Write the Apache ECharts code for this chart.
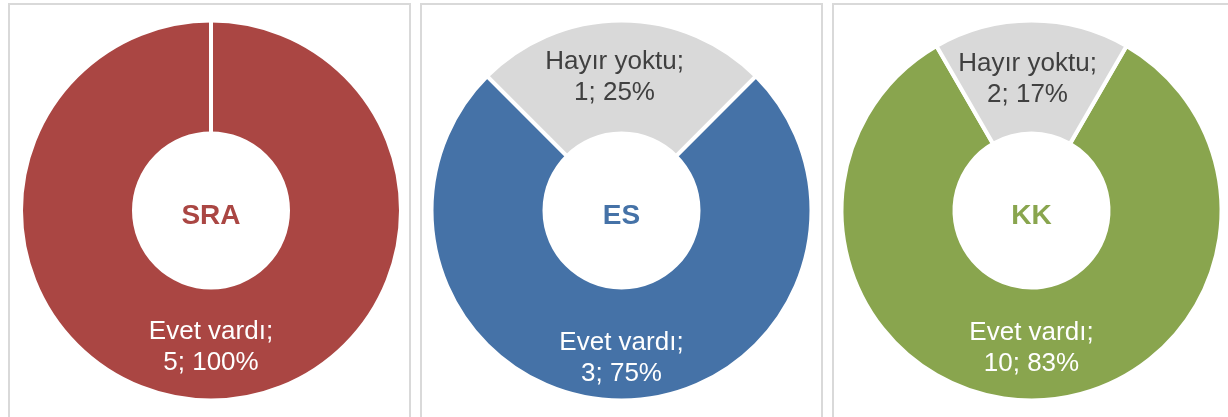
<!DOCTYPE html>
<html>
<head>
<meta charset="utf-8">
<script src="https://cdn.jsdelivr.net/npm/echarts@6/dist/echarts.min.js"></script>
<style>
  html, body { margin: 0; padding: 0; background: #fff; }
  #chart { width: 1228px; height: 417px; }
</style>
</head>
<body>
<div id="chart"></div>
<script>
// Three donuts side by side, one per group; the "Hayır" slice is centred at the top.

const groups = ["SRA", "ES", "KK"];
const categories = ["Evet vardı", "Hayır yoktu"];
const sraValues = [5];
const esValues = [3, 1];
const kkValues = [10, 2];

const groupColors = ["#AA4643", "#4572A7", "#89A54E"];
const noColor = "#D9D9D9";
const FONT = "'Liberation Sans', Arial, sans-serif";

const centersX = [211, 621.5, 1031.5];
const centerY = 210.5;
const R_IN = 77, R_OUT = 190;
// small nudges so labels sit where Excel put them
const evetDy = [0, 11, 1];
const hayirDy = [5, 3, 5];
const hayirDx = [0, -7, -4];

const allValues = [sraValues, esValues, kkValues];

const chart = echarts.init(document.getElementById("chart"), null, { renderer: "canvas" });

const series = allValues.map((vals, gi) => {
  const total = vals.reduce((a, b) => a + b, 0);
  const hayirAngle = ((vals[1] || 0) / total) * 360;
  return {
    type: "pie",
    center: [centersX[gi], centerY],
    radius: [R_IN, R_OUT],
    startAngle: 90 - hayirAngle / 2,
    clockwise: true,
    silent: true,
    percentPrecision: 0,
    avoidLabelOverlap: false,
    itemStyle: { borderColor: "#fff", borderWidth: 4 },
    label: {
      show: true,
      position: "inside",
      formatter: "{b};\n{c}; {d}%",
      align: "center",
      fontFamily: FONT,
      fontSize: 26,
      lineHeight: 31,
    },
    labelLine: { show: false },
    labelLayout: p => p.dataIndex === 0
      ? { dy: evetDy[gi] }
      : { dx: hayirDx[gi], dy: hayirDy[gi] },
    data: vals.map((v, i) => ({
      name: categories[i],
      value: v,
      itemStyle: { color: i === 0 ? groupColors[gi] : noColor },
      label: { color: i === 0 ? "#fff" : "#404040" },
    })),
  };
});

const graphic = [];
// panel frames
[[9, 401], [421, 401], [833, 401]].forEach(([x, w]) => {
  graphic.push({
    type: "rect", silent: true, z: 0,
    shape: { x, y: 4, width: w, height: 440 },
    style: { fill: "none", stroke: "#D9D9D9", lineWidth: 2 },
  });
});
// centre captions
groups.forEach((g, gi) => {
  graphic.push({
    type: "text", silent: true, z: 10,
    style: {
      text: g, x: centersX[gi], y: centerY + 6,
      align: "center", verticalAlign: "middle",
      font: `bold 28px ${FONT}`, fill: groupColors[gi],
    },
  });
});
// white separator where the full SRA ring starts and ends
graphic.push({
  type: "line", silent: true, z: 10,
  shape: { x1: centersX[0], y1: centerY - R_IN + 2, x2: centersX[0], y2: centerY - R_OUT - 4 },
  style: { stroke: "#fff", lineWidth: 4 },
});

chart.setOption({
  backgroundColor: "#fff",
  animation: false,
  series,
  graphic,
});
</script>
</body>
</html>
